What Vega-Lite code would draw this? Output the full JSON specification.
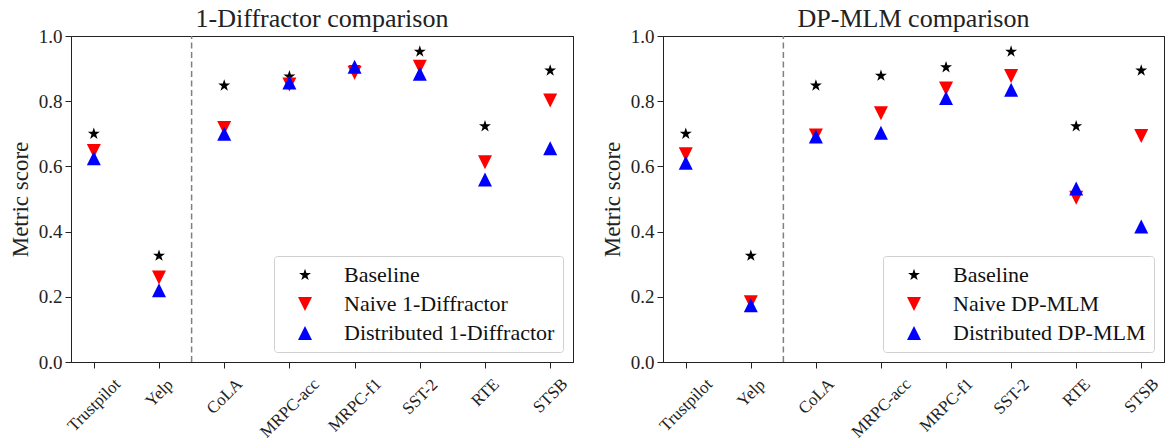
{
  "$schema": "https://vega.github.io/schema/vega-lite/v6.json",
  "background": "white",
  "padding": {"left": 8, "top": 5, "right": 0, "bottom": 0},
  "config": {
    "font": "Liberation Serif",
    "view": {"stroke": "#222", "strokeWidth": 1},
    "axis": {"grid": false, "domainColor": "#222", "tickColor": "#222", "labelColor": "#222", "titleColor": "#222", "labelFont": "Liberation Serif", "titleFont": "Liberation Serif", "labelFontSize": 19, "titleFontSize": 23, "titleFontWeight": "normal", "tickSize": 6},
    "title": {"font": "Liberation Serif", "fontSize": 26, "fontWeight": "normal", "color": "#222", "offset": -5, "frame": "group", "anchor": "middle"},
    "legend": {"orient": "bottom-right", "offset": 10, "labelFont": "Liberation Serif", "labelFontSize": 22, "labelColor": "#111", "symbolSize": 196, "strokeColor": "#d0d0d0", "cornerRadius": 3, "fillColor": "rgba(255,255,255,0.8)", "padding": 8, "rowPadding": 7, "symbolOffset": 12, "labelOffset": 28, "symbolStrokeWidth": 0, "symbolOpacity": 1, "labelLimit": 400},
    "concat": {"spacing": 26}
  },
  "resolve": {"scale": {"color": "independent", "shape": "independent"}, "legend": {"color": "independent", "shape": "independent"}},
  "datasets": {
    "scores": [
      {"panel": "1-Diffractor", "method": "Baseline", "task": "Trustpilot", "score": 0.700},
      {"panel": "1-Diffractor", "method": "Baseline", "task": "Yelp", "score": 0.326},
      {"panel": "1-Diffractor", "method": "Baseline", "task": "CoLA", "score": 0.848},
      {"panel": "1-Diffractor", "method": "Baseline", "task": "MRPC-acc", "score": 0.876},
      {"panel": "1-Diffractor", "method": "Baseline", "task": "MRPC-f1", "score": 0.904},
      {"panel": "1-Diffractor", "method": "Baseline", "task": "SST-2", "score": 0.952},
      {"panel": "1-Diffractor", "method": "Baseline", "task": "RTE", "score": 0.723},
      {"panel": "1-Diffractor", "method": "Baseline", "task": "STSB", "score": 0.894},
      {"panel": "1-Diffractor", "method": "Naive 1-Diffractor", "task": "Trustpilot", "score": 0.647},
      {"panel": "1-Diffractor", "method": "Naive 1-Diffractor", "task": "Yelp", "score": 0.259},
      {"panel": "1-Diffractor", "method": "Naive 1-Diffractor", "task": "CoLA", "score": 0.718},
      {"panel": "1-Diffractor", "method": "Naive 1-Diffractor", "task": "MRPC-acc", "score": 0.851},
      {"panel": "1-Diffractor", "method": "Naive 1-Diffractor", "task": "MRPC-f1", "score": 0.887},
      {"panel": "1-Diffractor", "method": "Naive 1-Diffractor", "task": "SST-2", "score": 0.906},
      {"panel": "1-Diffractor", "method": "Naive 1-Diffractor", "task": "RTE", "score": 0.613},
      {"panel": "1-Diffractor", "method": "Naive 1-Diffractor", "task": "STSB", "score": 0.802},
      {"panel": "1-Diffractor", "method": "Distributed 1-Diffractor", "task": "Trustpilot", "score": 0.625},
      {"panel": "1-Diffractor", "method": "Distributed 1-Diffractor", "task": "Yelp", "score": 0.220},
      {"panel": "1-Diffractor", "method": "Distributed 1-Diffractor", "task": "CoLA", "score": 0.700},
      {"panel": "1-Diffractor", "method": "Distributed 1-Diffractor", "task": "MRPC-acc", "score": 0.857},
      {"panel": "1-Diffractor", "method": "Distributed 1-Diffractor", "task": "MRPC-f1", "score": 0.906},
      {"panel": "1-Diffractor", "method": "Distributed 1-Diffractor", "task": "SST-2", "score": 0.884},
      {"panel": "1-Diffractor", "method": "Distributed 1-Diffractor", "task": "RTE", "score": 0.560},
      {"panel": "1-Diffractor", "method": "Distributed 1-Diffractor", "task": "STSB", "score": 0.656},
      {"panel": "DP-MLM", "method": "Baseline", "task": "Trustpilot", "score": 0.700},
      {"panel": "DP-MLM", "method": "Baseline", "task": "Yelp", "score": 0.326},
      {"panel": "DP-MLM", "method": "Baseline", "task": "CoLA", "score": 0.848},
      {"panel": "DP-MLM", "method": "Baseline", "task": "MRPC-acc", "score": 0.878},
      {"panel": "DP-MLM", "method": "Baseline", "task": "MRPC-f1", "score": 0.904},
      {"panel": "DP-MLM", "method": "Baseline", "task": "SST-2", "score": 0.952},
      {"panel": "DP-MLM", "method": "Baseline", "task": "RTE", "score": 0.723},
      {"panel": "DP-MLM", "method": "Baseline", "task": "STSB", "score": 0.894},
      {"panel": "DP-MLM", "method": "Naive DP-MLM", "task": "Trustpilot", "score": 0.637},
      {"panel": "DP-MLM", "method": "Naive DP-MLM", "task": "Yelp", "score": 0.183},
      {"panel": "DP-MLM", "method": "Naive DP-MLM", "task": "CoLA", "score": 0.695},
      {"panel": "DP-MLM", "method": "Naive DP-MLM", "task": "MRPC-acc", "score": 0.763},
      {"panel": "DP-MLM", "method": "Naive DP-MLM", "task": "MRPC-f1", "score": 0.839},
      {"panel": "DP-MLM", "method": "Naive DP-MLM", "task": "SST-2", "score": 0.877},
      {"panel": "DP-MLM", "method": "Naive DP-MLM", "task": "RTE", "score": 0.504},
      {"panel": "DP-MLM", "method": "Naive DP-MLM", "task": "STSB", "score": 0.693},
      {"panel": "DP-MLM", "method": "Distributed DP-MLM", "task": "Trustpilot", "score": 0.611},
      {"panel": "DP-MLM", "method": "Distributed DP-MLM", "task": "Yelp", "score": 0.174},
      {"panel": "DP-MLM", "method": "Distributed DP-MLM", "task": "CoLA", "score": 0.692},
      {"panel": "DP-MLM", "method": "Distributed DP-MLM", "task": "MRPC-acc", "score": 0.703},
      {"panel": "DP-MLM", "method": "Distributed DP-MLM", "task": "MRPC-f1", "score": 0.810},
      {"panel": "DP-MLM", "method": "Distributed DP-MLM", "task": "SST-2", "score": 0.835},
      {"panel": "DP-MLM", "method": "Distributed DP-MLM", "task": "RTE", "score": 0.532},
      {"panel": "DP-MLM", "method": "Distributed DP-MLM", "task": "STSB", "score": 0.416}
    ]
  },
  "hconcat": [
    {
      "title": "1-Diffractor comparison",
      "width": 502,
      "height": 326,
      "layer": [
        {
          "data": {"values": [{}]},
          "mark": {"type": "rule", "strokeDash": [6, 3.5], "color": "#808080", "strokeWidth": 1.5},
          "encoding": {
            "x": {"datum": 1.5, "type": "quantitative", "scale": {"domain": [-0.35, 7.35], "nice": false, "zero": false}, "axis": {"orient": "top", "labels": false, "ticks": false, "title": null, "domain": true}},
            "y": {"datum": 0, "type": "quantitative", "scale": {"domain": [0, 1], "nice": false}, "axis": {"orient": "right", "labels": false, "ticks": false, "title": null, "domain": true}},
            "y2": {"datum": 1}
          }
        },
        {
          "data": {"name": "scores"},
          "transform": [{"filter": "datum.panel == '1-Diffractor'"}],
          "mark": {"type": "point", "filled": true, "size": 196, "opacity": 1, "strokeWidth": 0},
          "encoding": {
            "x": {"field": "task", "type": "nominal", "sort": ["Trustpilot", "Yelp", "CoLA", "MRPC-acc", "MRPC-f1", "SST-2", "RTE", "STSB"], "scale": {"type": "point", "padding": 0.35},
              "axis": {"title": null, "labelAngle": -45, "labelAlign": "center", "labelBaseline": "middle", "labelFontSize": 17, "labelOverlap": false, "labelFlush": false,
                "labelPadding": {"expr": "7 + 0.354*([67,33,42.5,75.5,67,43.5,32,40.6][indexof(['Trustpilot','Yelp','CoLA','MRPC-acc','MRPC-f1','SST-2','RTE','STSB'], datum.value)] + 17)"}}},
            "y": {"field": "score", "type": "quantitative", "scale": {"domain": [0, 1], "nice": false}, "axis": {"orient": "left", "title": "Metric score", "values": [0, 0.2, 0.4, 0.6, 0.8, 1.0], "format": ".1f", "labelPadding": 3, "titlePadding": 6}},
            "color": {"field": "method", "type": "nominal", "scale": {"domain": ["Baseline", "Naive 1-Diffractor", "Distributed 1-Diffractor"], "range": ["#000000", "#ff0000", "#0000ff"]}, "legend": {"title": null}},
            "shape": {"field": "method", "type": "nominal", "scale": {"domain": ["Baseline", "Naive 1-Diffractor", "Distributed 1-Diffractor"], "range": ["M0,-0.9L0.202,-0.278L0.856,-0.278L0.327,0.106L0.529,0.728L0,0.344L-0.529,0.728L-0.327,0.106L-0.856,-0.278L-0.202,-0.278Z", "M-1,-1L1,-1L0,1Z", "M0,-1L1,1L-1,1Z"]}, "legend": {"title": null}}
          }
        }
      ],
      "resolve": {"scale": {"x": "independent"}, "axis": {"x": "independent", "y": "independent"}}
    },
    {
      "title": "DP-MLM comparison",
      "width": 501,
      "height": 326,
      "layer": [
        {
          "data": {"values": [{}]},
          "mark": {"type": "rule", "strokeDash": [6, 3.5], "color": "#808080", "strokeWidth": 1.5},
          "encoding": {
            "x": {"datum": 1.5, "type": "quantitative", "scale": {"domain": [-0.35, 7.35], "nice": false, "zero": false}, "axis": {"orient": "top", "labels": false, "ticks": false, "title": null, "domain": true}},
            "y": {"datum": 0, "type": "quantitative", "scale": {"domain": [0, 1], "nice": false}, "axis": {"orient": "right", "labels": false, "ticks": false, "title": null, "domain": true}},
            "y2": {"datum": 1}
          }
        },
        {
          "data": {"name": "scores"},
          "transform": [{"filter": "datum.panel == 'DP-MLM'"}],
          "mark": {"type": "point", "filled": true, "size": 196, "opacity": 1, "strokeWidth": 0},
          "encoding": {
            "x": {"field": "task", "type": "nominal", "sort": ["Trustpilot", "Yelp", "CoLA", "MRPC-acc", "MRPC-f1", "SST-2", "RTE", "STSB"], "scale": {"type": "point", "padding": 0.35},
              "axis": {"title": null, "labelAngle": -45, "labelAlign": "center", "labelBaseline": "middle", "labelFontSize": 17, "labelOverlap": false, "labelFlush": false,
                "labelPadding": {"expr": "7 + 0.354*([67,33,42.5,75.5,67,43.5,32,40.6][indexof(['Trustpilot','Yelp','CoLA','MRPC-acc','MRPC-f1','SST-2','RTE','STSB'], datum.value)] + 17)"}}},
            "y": {"field": "score", "type": "quantitative", "scale": {"domain": [0, 1], "nice": false}, "axis": {"orient": "left", "title": "Metric score", "values": [0, 0.2, 0.4, 0.6, 0.8, 1.0], "format": ".1f", "labelPadding": 3, "titlePadding": 6}},
            "color": {"field": "method", "type": "nominal", "scale": {"domain": ["Baseline", "Naive DP-MLM", "Distributed DP-MLM"], "range": ["#000000", "#ff0000", "#0000ff"]}, "legend": {"title": null}},
            "shape": {"field": "method", "type": "nominal", "scale": {"domain": ["Baseline", "Naive DP-MLM", "Distributed DP-MLM"], "range": ["M0,-0.9L0.202,-0.278L0.856,-0.278L0.327,0.106L0.529,0.728L0,0.344L-0.529,0.728L-0.327,0.106L-0.856,-0.278L-0.202,-0.278Z", "M-1,-1L1,-1L0,1Z", "M0,-1L1,1L-1,1Z"]}, "legend": {"title": null}}
          }
        }
      ],
      "resolve": {"scale": {"x": "independent"}, "axis": {"x": "independent", "y": "independent"}}
    }
  ]
}
